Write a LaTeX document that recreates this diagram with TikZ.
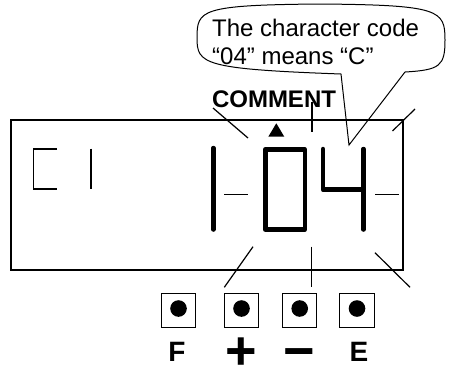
\documentclass[tikz,border=0pt]{standalone}
\usepackage{fontspec}
\setmainfont{Liberation Sans}
\tikzset{
  mark line/.style = {line width = 1.2pt},
  segment/.style = {line width = 4.5pt, line cap = round, line join = round},
  key/.style = {draw, line width = 1pt, minimum size = 34.5pt, inner sep = 0pt},
  key label/.style = {anchor = base, inner sep = 0pt, font = \fontsize{28}{29}\bfseries},
  key sign/.style = {anchor = base, inner sep = 0pt, font = \fontsize{54}{54}\bfseries}
}
\begin{document}
\begin{tikzpicture}[x = 1pt, y = -1pt]
\useasboundingbox (0,0) rectangle (449,367);
\draw [line width = 2pt] (11,119.5) rectangle (402.5,270);
\draw [line width = 1pt] (341,74) -- (349,145) -- (405,72)
  .. controls (440,70) and (445,66) .. (445,40)
  .. controls (445,10) and (440,5) .. (320,4)
  .. controls (200,5) and (197,10) .. (197,38)
  .. controls (197,64) and (203,69) .. cycle;
\node [anchor = north west, inner sep = 0pt, align = left,
  font = \fontsize{24}{28.3}\selectfont] (note) at (212,18.5)
  {The character code\\“04” means “C”};
\node [anchor = base, inner sep = 0pt, font = \fontsize{24}{24}\bfseries]
  (comment) at (274,107.3) {COMMENT};
\fill (268.3,136.7) -- (284.3,136.7) -- (276.3,123.3) -- cycle;
\draw [line width = 1.5pt] (57,149) -- (33.5,149) -- (33.5,189) -- (57,189);
\draw [line width = 1.5pt] (91,148.5) -- (91,189.3);
\draw [segment] (213.3,148) -- (213.3,229.5);
\draw [segment] (265.3,149.3) rectangle (304.8,229.7);
\draw [segment] (323,149) -- (323,189.7) -- (363.5,189.7);
\draw [segment] (363.5,149) -- (363.5,229.5);
\draw [mark line] (224.3,194.3) -- (248.3,194.3);
\draw [mark line] (375,194.3) -- (399,194.3);
\draw [mark line] (213,108) -- (248,138);
\draw [mark line] (312,102) -- (312,131.5);
\draw [mark line] (415,109) -- (392.5,131);
\draw [mark line] (253,246.7) -- (224.3,287.3);
\draw [mark line] (311.7,246.7) -- (311.7,287.3);
\draw [mark line] (375,252.7) -- (410,287.3);
\node [key] (keyF) at (178.5,310.5) {};
\node [key] (keyPlus) at (241.5,310.5) {};
\node [key] (keyMinus) at (299.7,310.5) {};
\node [key] (keyE) at (357,310.5) {};
\fill ([yshift = 2pt] keyF.center) circle (8.3);
\fill ([yshift = 2pt] keyPlus.center) circle (8.3);
\fill ([yshift = 2pt] keyMinus.center) circle (8.3);
\fill ([yshift = 2pt] keyE.center) circle (8.3);
\node [key label] (labF) at (177,361.5) {F};
\node [key sign] (labPlus) at (241.5,369) {+};
\node [key sign] (labMinus) at (299.5,369.5) {−};
\node [key label] (labE) at (359,361.5) {E};
\end{tikzpicture}
\end{document}
